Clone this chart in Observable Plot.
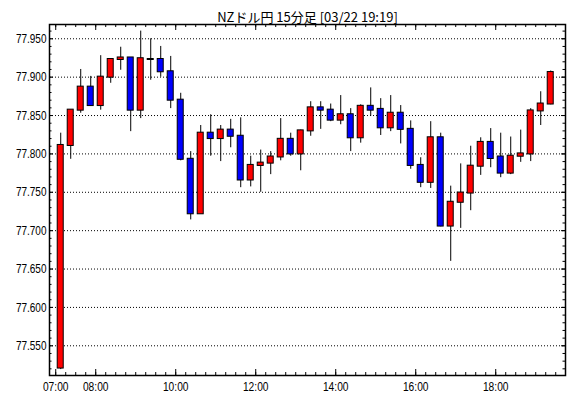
<!DOCTYPE html>
<html><head><meta charset="utf-8">
<script src="https://cdn.jsdelivr.net/npm/d3@7"></script>
<script src="https://cdn.jsdelivr.net/npm/@observablehq/plot@0.6"></script>
<style>
html,body{margin:0;padding:0;background:#fff;}
</style></head><body><div id="chart"></div>
<script>
const title = "NZドル円 15分足 [03/22 19:19]";
const times = ["07:00","07:15","07:30","07:45","08:00","08:15","08:30","08:45","09:00","09:15",
  "09:30","09:45","10:00","10:15","10:30","10:45","11:00","11:15","11:30","11:45",
  "12:00","12:15","12:30","12:45","13:00","13:15","13:30","13:45","14:00","14:15",
  "14:30","14:45","15:00","15:15","15:30","15:45","16:00","16:15","16:30","16:45",
  "17:00","17:15","17:30","17:45","18:00","18:15","18:30","18:45","19:00","19:15"];
const open = [77.521,77.811,77.857,77.887,77.863,77.900,77.923,77.925,77.857,77.923,
  77.923,77.907,77.870,77.793,77.722,77.827,77.820,77.831,77.823,77.766,
  77.785,77.788,77.796,77.819,77.800,77.830,77.860,77.857,77.844,77.851,
  77.821,77.862,77.858,77.834,77.853,77.832,77.785,77.763,77.821,77.706,
  77.737,77.749,77.784,77.815,77.796,77.775,77.797,77.800,77.856,77.865];
const high = [77.827,77.857,77.910,77.901,77.928,77.924,77.939,77.925,77.960,77.950,
  77.940,77.927,77.879,77.803,77.837,77.851,77.837,77.845,77.847,77.797,
  77.805,77.803,77.846,77.827,77.831,77.868,77.868,77.865,77.876,77.859,
  77.864,77.886,77.872,77.876,77.863,77.843,77.795,77.842,77.827,77.758,
  77.787,77.810,77.821,77.833,77.827,77.822,77.831,77.859,77.881,77.908];
const low = [77.519,77.793,77.853,77.862,77.857,77.892,77.909,77.829,77.846,77.896,
  77.900,77.859,77.791,77.714,77.722,77.797,77.790,77.808,77.756,77.757,
  77.750,77.773,77.791,77.797,77.778,77.823,77.832,77.842,77.838,77.803,
  77.814,77.849,77.824,77.829,77.813,77.780,77.756,77.755,77.705,77.660,
  77.703,77.726,77.772,77.782,77.769,77.773,77.789,77.790,77.837,77.864];
const close = [77.811,77.857,77.887,77.863,77.900,77.923,77.925,77.857,77.924,77.923,
  77.907,77.870,77.793,77.722,77.827,77.820,77.831,77.823,77.766,77.785,
  77.788,77.796,77.819,77.800,77.830,77.860,77.857,77.844,77.851,77.821,
  77.862,77.857,77.834,77.853,77.832,77.785,77.763,77.821,77.706,77.737,
  77.749,77.784,77.815,77.794,77.775,77.797,77.800,77.856,77.865,77.906];
const yTicks = [77.55,77.60,77.65,77.70,77.75,77.80,77.85,77.90,77.95];
const xTickLabels = ["07:00","08:00","10:00","12:00","14:00","16:00","18:00"];

const toDate = s => { const [h,m] = s.split(":").map(Number); return new Date(Date.UTC(2024,2,22,h,m)); };
const data = times.map((t,i) => ({t: toDate(t), open: open[i], high: high[i], low: low[i], close: close[i]}));

const W = 570, H = 398, mL = 49, mR = 5, mT = 24, mB = 23;
const pw = W - mL - mR, ph = H - mT - mB;
const font = '"Liberation Sans",sans-serif';
const xMajor = xTickLabels.map(toDate);
const xMinor = d3.utcMinute.every(15).range(toDate("07:00"), toDate("19:45"));
const yMinor = d3.range(77520, 77961, 10).map(v => v / 1000);
const mid = d => new Date(+d.t + 7.5 * 60000);
const end = d => new Date(+d.t + 15 * 60000);
const col = d => d.close > d.open ? "#ff0000" : d.close < d.open ? "#0000ff" : "#000000";

const chart = Plot.plot({
  width: W, height: H, marginLeft: mL, marginRight: mR, marginTop: mT, marginBottom: mB,
  style: {background: "#fff", color: "#000", fontFamily: font, fontSize: "12.5px"},
  x: {type: "utc", label: null, domain: [new Date(Date.UTC(2024,2,22,6,50,40)), new Date(Date.UTC(2024,2,22,19,44,40))]},
  y: {label: null, domain: [77.5113, 77.9686]},
  color: {type: "identity"},
  marks: [
    Plot.ruleY(yTicks, {stroke: "#000", strokeDasharray: "1,2"}),
    Plot.ruleX(data, {x: mid, y1: "low", y2: "high", stroke: "#000"}),
    Plot.rect(data, {x1: "t", x2: end, y1: "open", y2: "close", insetLeft: 2, insetRight: 2, insetTop: -0.5, insetBottom: -0.5, fill: col, stroke: "#000"}),
    Plot.tickY(yTicks, {y: d => d, insetRight: pw - 4, stroke: "#000"}),
    Plot.tickY(yTicks, {y: d => d, insetLeft: pw - 4, stroke: "#000"}),
    Plot.tickY(yMinor, {y: d => d, insetRight: pw - 2.5, stroke: "#000"}),
    Plot.tickY(yMinor, {y: d => d, insetLeft: pw - 2.5, stroke: "#000"}),
    Plot.tickX(xMajor, {x: d => d, insetTop: ph - 6, stroke: "#000"}),
    Plot.tickX(xMajor, {x: d => d, insetBottom: ph - 6, stroke: "#000"}),
    Plot.tickX(xMinor, {x: d => d, insetTop: ph - 3, stroke: "#000"}),
    Plot.tickX(xMinor, {x: d => d, insetBottom: ph - 3, stroke: "#000"}),
    Plot.axisY(yTicks, {tickSize: 0, tickPadding: 3, fontSize: 13, tickFormat: d3.format(".3f")}),
    Plot.axisX(xMajor, {tickSize: 0, tickPadding: 6.5, fontSize: 13, tickFormat: d3.utcFormat("%H:%M")}),
    Plot.frame({stroke: "#000", strokeWidth: 1.5}),
    Plot.text([title], {frameAnchor: "top", dy: -12, fontFamily: '"Noto Sans CJK JP"', fontSize: 13, fill: "#000"})
  ]
});
// condense the axis labels to the narrow widths of the original font
chart.querySelectorAll('g[aria-label="y-axis tick label"] text').forEach(t => {
  t.setAttribute("textLength", 30.6); t.setAttribute("lengthAdjust", "spacingAndGlyphs");
});
chart.querySelectorAll('g[aria-label="x-axis tick label"] text').forEach(t => {
  t.setAttribute("textLength", 25.6); t.setAttribute("lengthAdjust", "spacingAndGlyphs");
});
document.getElementById("chart").appendChild(chart);
</script>
</body></html>
